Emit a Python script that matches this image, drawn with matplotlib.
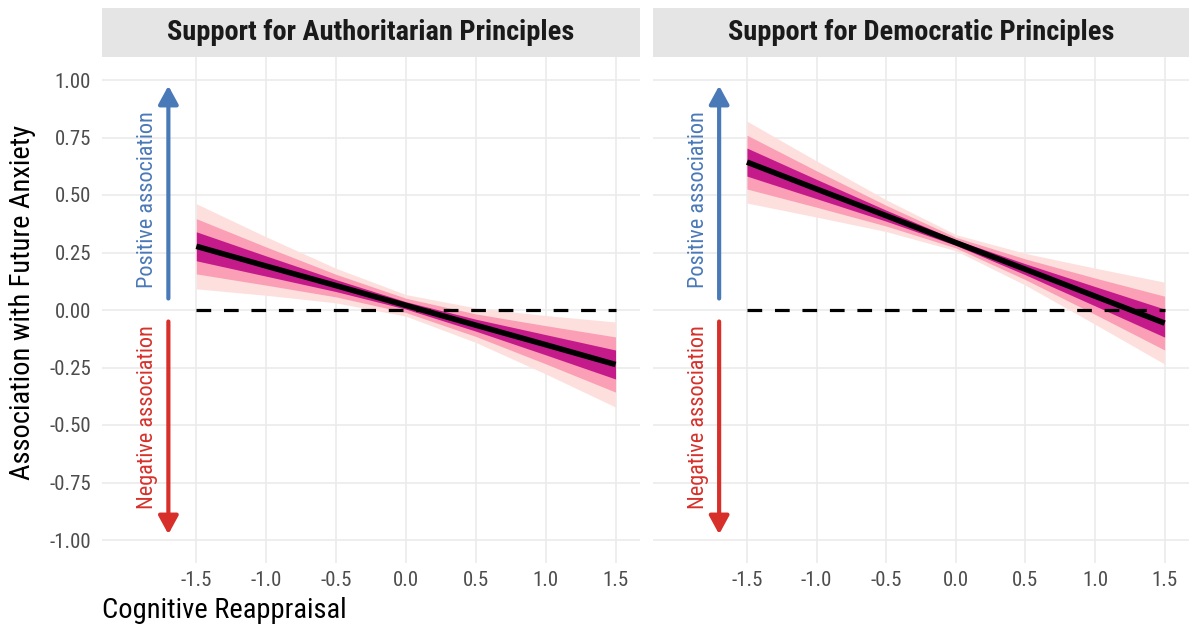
import numpy as np
import matplotlib
matplotlib.use("Agg")
import matplotlib.pyplot as plt

plt.rcParams['font.family'] = ['Roboto Condensed', 'Roboto', 'DejaVu Sans']
plt.rcParams['axes.unicode_minus'] = False

# moderator values (cognitive reappraisal)
x_pts = [-1.5, -1.0, -0.5, 0.0, 0.5, 1.0, 1.5]

panels = ["Support for Authoritarian Principles", "Support for Democratic Principles"]

# slope estimates of future anxiety, per panel
est_auth = [0.277, 0.191, 0.106, 0.020, -0.066, -0.151, -0.237]
est_demo = [0.643, 0.526, 0.410, 0.293, 0.177, 0.060, -0.057]

# half widths of the intervals (95 / 80 / 50 %)
ci95_auth = [0.185, 0.127, 0.075, 0.047, 0.075, 0.127, 0.185]
ci80_auth = [0.120, 0.083, 0.049, 0.031, 0.049, 0.083, 0.120]
ci50_auth = [0.063, 0.044, 0.026, 0.016, 0.026, 0.044, 0.063]

ci95_demo = [0.178, 0.122, 0.069, 0.035, 0.069, 0.122, 0.178]
ci80_demo = [0.117, 0.079, 0.045, 0.023, 0.045, 0.079, 0.117]
ci50_demo = [0.061, 0.042, 0.024, 0.012, 0.024, 0.042, 0.061]

y_ticks = [-1.0, -0.75, -0.5, -0.25, 0.0, 0.25, 0.5, 0.75, 1.0]
x_ticks = [-1.5, -1.0, -0.5, 0.0, 0.5, 1.0, 1.5]

band_cols = ["#fde0dd", "#fa9fb5", "#c51b8a"]
blue = "#4a79b8"
red = "#d7302a"
grid_col = "#ebebeb"
tick_col = "#4d4d4d"

W, H = 1189, 632
fig = plt.figure(figsize=(W / 100, H / 100), dpi=100)

# pixel layout of the two panels
panel_px = [(102, 640), (653, 1189)]
top_px, bot_px = 57, 563
strip_top = 8

data = [
    (est_auth, [ci95_auth, ci80_auth, ci50_auth]),
    (est_demo, [ci95_demo, ci80_demo, ci50_demo]),
]

for i, ((l, r), title, (est, cis)) in enumerate(zip(panel_px, panels, data)):
    ax = fig.add_axes([l / W, 1 - bot_px / H, (r - l) / W, (bot_px - top_px) / H])
    st = fig.add_axes([l / W, 1 - top_px / H, (r - l) / W, (top_px - strip_top) / H])
    st.set_facecolor("#e5e5e5")
    st.set_xticks([])
    st.set_yticks([])
    for s in st.spines.values():
        s.set_visible(False)
    st.text(0.5, 0.5, title, ha="center", va="center", fontsize=20.4,
            fontweight="bold", color="#1a1a1a", transform=st.transAxes)

    est = np.array(est)
    for ci, col in zip(cis, band_cols):
        ci = np.array(ci)
        ax.fill_between(x_pts, est - ci, est + ci, color=col, lw=0, zorder=2)
    ax.plot([x_pts[0], x_pts[-1]], [0, 0], color="black", lw=2.3,
            linestyle=(0, (4.6, 4.0)), zorder=3)
    ax.plot(x_pts, est, color="black", lw=4, zorder=4, solid_capstyle="butt")

    # direction arrows
    ax.annotate("", xy=(-1.7, 0.975), xytext=(-1.7, 0.05),
                arrowprops=dict(arrowstyle="-|>,head_length=0.55,head_width=0.3",
                                color=blue, lw=3, mutation_scale=20,
                                shrinkA=0, shrinkB=0), zorder=3)
    ax.annotate("", xy=(-1.7, -0.975), xytext=(-1.7, -0.05),
                arrowprops=dict(arrowstyle="-|>,head_length=0.55,head_width=0.3",
                                color=red, lw=3, mutation_scale=20,
                                shrinkA=0, shrinkB=0), zorder=3)
    ax.text(-1.85, 0.48, "Positive association", rotation=90, ha="center",
            va="center", color=blue, fontsize=16)
    ax.text(-1.85, -0.465, "Negative association", rotation=90, ha="center",
            va="center", color=red, fontsize=16)

    ax.set_xlim(-2.175, 1.675)
    ax.set_ylim(-1.1, 1.1)
    ax.set_xticks(x_ticks)
    ax.set_xticklabels(["%.1f" % v for v in x_ticks])
    ax.set_yticks(y_ticks)
    ax.set_yticklabels(["%.2f" % v for v in y_ticks])
    ax.grid(True, color=grid_col, lw=1.2)
    ax.set_axisbelow(True)
    for s in ax.spines.values():
        s.set_visible(False)
    ax.tick_params(length=0, labelsize=15, colors=tick_col)
    ax.tick_params(axis="x", pad=6)
    ax.tick_params(axis="y", pad=8)
    if i == 1:
        ax.tick_params(axis="y", labelleft=False)

fig.text(102 / W, 1 - 610 / H, "Cognitive Reappraisal", ha="left", va="center",
         fontsize=20.5, color="black")
fig.text(23 / W, 1 - 302 / H, "Association with Future Anxiety", ha="center",
         va="center", rotation=90, fontsize=20.5, color="black")

fig.savefig("out.png", dpi=100)
